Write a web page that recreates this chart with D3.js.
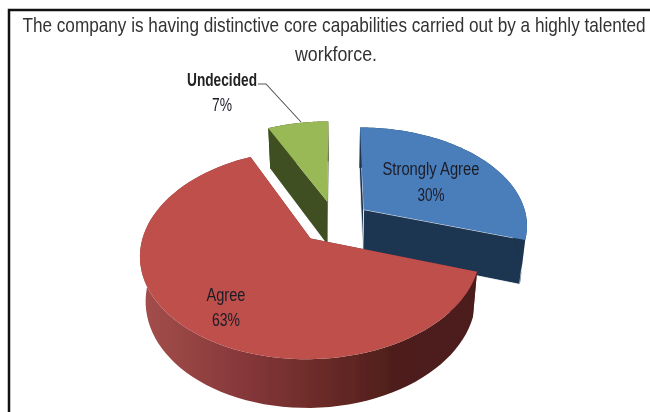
<html>

<head>
    <script src="https://d3js.org/d3.v7.min.js"></script>
    <style>
        body { margin: 0; background: white; }
        svg { display: block; }
        text { font-family: "Liberation Sans Narrow", "Liberation Sans", sans-serif; }
    </style>
</head>

<body>
    <svg id="chart" width="650" height="412"></svg>
    <script>
        const titleLines = ["The company is having distinctive core capabilities carried out by a highly talented", "workforce."];
        const categories = ["Strongly Agree", "Agree", "Undecided"];
        const percents = [30, 63, 7];
        const topColors = ["#4a7ebb", "#be4f4c", "#98b954"];
        const faceColors = ["#1d3451", "#6e2c2a", "#3f4f22"];

        const svg = d3.select("#chart");

        // soft edges, the original is a scaled-up screenshot
        const defs = svg.append("defs");
        defs.append("filter").attr("id", "soft")
            .append("feGaussianBlur").attr("stdDeviation", 0.45);
        const wallGradient = defs.append("linearGradient")
            .attr("id", "redWall")
            .attr("gradientUnits", "userSpaceOnUse")
            .attr("x1", 140).attr("x2", 475).attr("y1", 0).attr("y2", 0);
        [[0, "#a44f4b"], [0.3, "#87383a"], [0.55, "#6a2a27"], [0.75, "#4f1f1b"], [1, "#4c1d1a"]].forEach(s => {
            wallGradient.append("stop").attr("offset", s[0]).attr("stop-color", s[1]);
        });

        // plane coordinates of the pie to screen, with a little perspective
        const xScale = d3.scaleLinear().domain([0, 1]).range([335, 499]);
        const yScale = d3.scaleLinear().domain([0, 1]).range([222, 319.6]);
        const perspective = 0.147;
        const depth = 45;
        const shrink = 0.03;
        const explode = 0.22;

        function project(x, y, z) {
            const w = (1 - perspective * y) * (1 + shrink * z);
            return [
                xScale(0) + (xScale(x) - xScale(0)) / w,
                yScale(0) + ((yScale(y) - yScale(0)) + depth * z) / w
            ];
        }

        const pie = d3.pie().sort(null);
        const slices = pie(percents);
        const line = d3.line();

        // painted back to front
        const chart = svg.append("g").attr("filter", "url(#soft)");
        [2, 0, 1].forEach(i => {
            const d = slices[i];
            const mid = (d.startAngle + d.endAngle) / 2;
            const ox = explode * Math.sin(mid);
            const oy = -explode * Math.cos(mid);
            const steps = d3.range(0, 81).map(k => d.startAngle + (d.endAngle - d.startAngle) * k / 80);
            const rim = steps.map(a => [ox + Math.sin(a), oy - Math.cos(a)]);
            const topPts = rim.map(p => project(p[0], p[1], 0));
            const lowPts = rim.map(p => project(p[0], p[1], 1));
            const apexTop = project(ox, oy, 0);
            const apexLow = project(ox, oy, 1);

            // radial faces
            [0, rim.length - 1].forEach(n => {
                chart.append("path")
                    .attr("d", line([apexTop, topPts[n], lowPts[n], apexLow]) + "Z")
                    .attr("fill", faceColors[i])
                    .attr("stroke", i == 0 ? "white" : "none")
                    .attr("stroke-width", 0.8);
            });
            // outer wall
            chart.append("path")
                .attr("d", line(topPts.concat(lowPts.slice().reverse())) + "Z")
                .attr("fill", i == 1 ? "url(#redWall)" : faceColors[i]);
            // top
            chart.append("path")
                .attr("d", line([apexTop].concat(topPts)) + "Z")
                .attr("fill", topColors[i]);
        });

        // frame, runs off the right and bottom of the picture
        svg.append("rect")
            .attr("x", 9).attr("y", 10)
            .attr("width", 700).attr("height", 500)
            .attr("fill", "none")
            .attr("stroke", "#111")
            .attr("stroke-width", 2.5);

        const labels = svg.append("g").attr("filter", "url(#soft)");

        // squeeze the long title line to its width in the picture
        const title1 = labels.append("text")
            .attr("text-anchor", "middle")
            .attr("font-size", 20)
            .attr("fill", "#333")
            .text(titleLines[0]);
        const titleWidth = title1.node().getComputedTextLength();
        title1.attr("transform", "translate(334,32) scale(" + (624 / titleWidth) + ",1)");

        labels.append("text")
            .attr("x", 336).attr("y", 61)
            .attr("text-anchor", "middle")
            .attr("font-size", 20)
            .attr("fill", "#333")
            .attr("textLength", 82)
            .attr("lengthAdjust", "spacingAndGlyphs")
            .text(titleLines[1]);

        // leader line for the small slice
        labels.append("path")
            .attr("d", line([[258, 84], [266, 84], [301, 122]]))
            .attr("fill", "none")
            .attr("stroke", "#555")
            .attr("stroke-width", 1.1);

        const labelPos = [[431, 175, 201, 97, 27], [226, 301, 326, 39, 28], [222, 86, 111, 70, 20]];
        categories.forEach((c, i) => {
            const p = labelPos[i];
            labels.append("text")
                .attr("x", p[0]).attr("y", p[1])
                .attr("text-anchor", "middle")
                .attr("font-size", 18)
                .attr("fill", i == 2 ? "#222" : "#1c1c28")
                .attr("font-weight", i == 2 ? "bold" : "normal")
                .attr("textLength", p[3])
                .attr("lengthAdjust", "spacingAndGlyphs")
                .text(c);
            labels.append("text")
                .attr("x", p[0]).attr("y", p[2])
                .attr("text-anchor", "middle")
                .attr("font-size", 18)
                .attr("fill", "#1c1c28")
                .attr("textLength", p[4])
                .attr("lengthAdjust", "spacingAndGlyphs")
                .text(percents[i] + "%");
        });
    </script>
</body>

</html>
